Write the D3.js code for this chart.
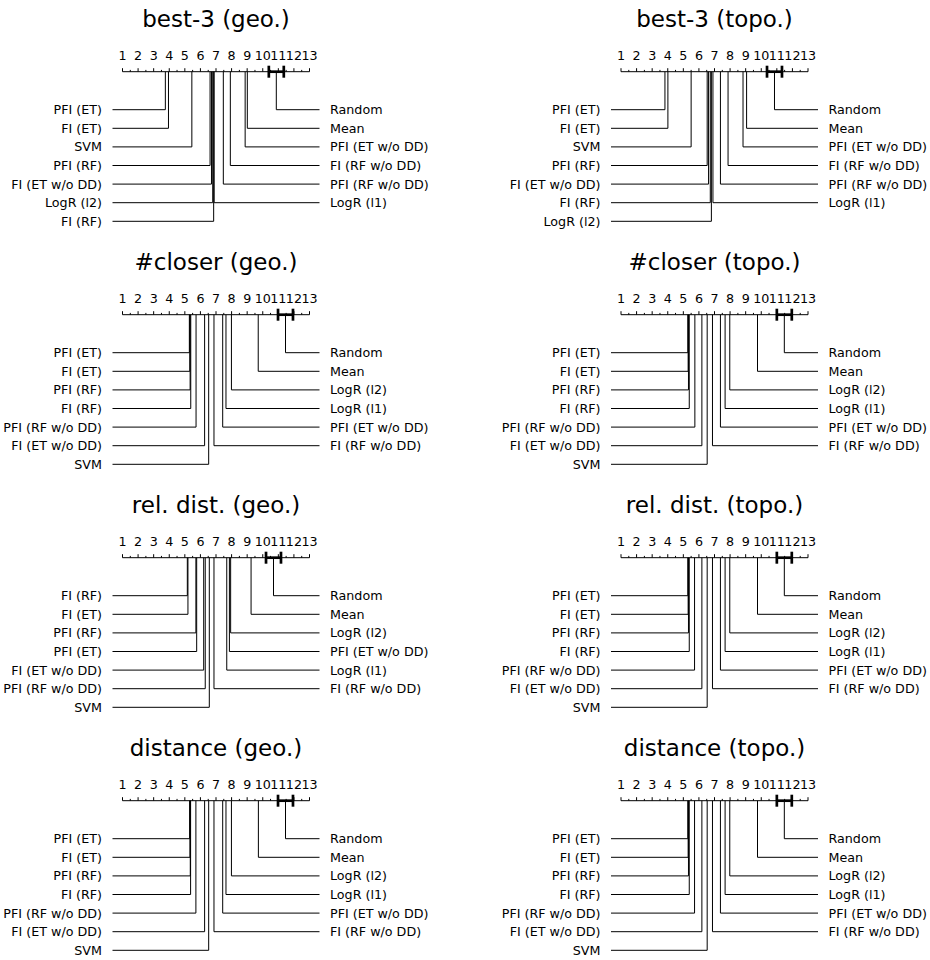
<!DOCTYPE html>
<html>
<head>
<meta charset="utf-8">
<script src="https://cdn.jsdelivr.net/npm/d3@7"></script>
<style>
  html, body { margin: 0; padding: 0; background: #fff; }
  svg { display: block; font-family: "DejaVu Sans", sans-serif; }
</style>
</head>
<body>
<svg id="chart" width="930" height="960"></svg>
<script>
// Methods compared in every panel (rank arrays below follow this order)
const methods = [
  "PFI (ET)", "FI (ET)", "PFI (RF)", "FI (RF)",
  "PFI (ET w/o DD)", "FI (ET w/o DD)", "PFI (RF w/o DD)", "FI (RF w/o DD)",
  "SVM", "LogR (l1)", "LogR (l2)", "Mean", "Random"
];

const panelTitles = [
  "best-3 (geo.)", "best-3 (topo.)",
  "#closer (geo.)", "#closer (topo.)",
  "rel. dist. (geo.)", "rel. dist. (topo.)",
  "distance (geo.)", "distance (topo.)"
];

// Average ranks per panel
const ranksBest3Geo     = [3.75, 3.95, 6.62, 6.85, 8.87, 6.71, 7.47, 7.92, 5.45, 6.88, 6.79, 9.01, 10.87];
const ranksBest3Topo    = [3.82, 4.01, 6.53, 6.73, 8.83, 6.62, 7.38, 7.87, 5.50, 6.90, 6.80, 9.06, 10.85];
const ranksCloserGeo    = [5.29, 5.32, 5.34, 5.38, 7.43, 6.27, 5.72, 6.87, 6.53, 7.64, 7.99, 9.71, 11.46];
const ranksCloserTopo   = [5.29, 5.31, 5.33, 5.38, 7.38, 6.19, 5.74, 6.87, 6.53, 7.68, 7.98, 9.76, 11.48];
const ranksRelDistGeo   = [5.76, 5.20, 5.71, 5.16, 7.86, 6.21, 6.31, 6.87, 6.57, 7.69, 7.94, 9.25, 10.69];
const ranksRelDistTopo  = [5.29, 5.31, 5.33, 5.38, 7.38, 6.19, 5.72, 6.87, 6.53, 7.68, 7.98, 9.76, 11.48];
const ranksDistanceGeo  = [5.31, 5.33, 5.35, 5.37, 7.43, 6.27, 5.71, 6.87, 6.53, 7.64, 7.99, 9.72, 11.46];
const ranksDistanceTopo = [5.29, 5.31, 5.33, 5.38, 7.38, 6.19, 5.72, 6.87, 6.53, 7.68, 7.98, 9.76, 11.48];

const panelRanks = [
  ranksBest3Geo, ranksBest3Topo,
  ranksCloserGeo, ranksCloserTopo,
  ranksRelDistGeo, ranksRelDistTopo,
  ranksDistanceGeo, ranksDistanceTopo
];

// Critical difference interval, centred on the worst-ranked method
const criticalDifference = 0.96;

const tickLabels = ["1","2","3","4","5","6","7","8","9","10","11","12","13"];

// ---- layout ----
const svg = d3.select("#chart");
const colX = [[122.5, 309.5], [621, 808]];
const rowAxisY = [71.7, 314.7, 557.7, 800.7];
const firstLineOffset = 38;
const lineStep = 18.6;
const lineOverhang = 10;
const textGap = 10.5;
const nLeft = Math.ceil(methods.length / 2);

panelRanks.forEach((ranks, p) => {
  const [x0, x1] = colX[p % 2];
  const axisY = rowAxisY[Math.floor(p / 2)];
  const x = d3.scaleLinear().domain([1, tickLabels.length]).range([x0, x1]);
  const g = svg.append("g");

  // title
  g.append("text")
    .attr("x", (x0 + x1) / 2)
    .attr("y", axisY - 44.5)
    .attr("text-anchor", "middle")
    .attr("font-size", 23)
    .text(panelTitles[p]);

  // axis line and ticks
  g.append("line")
    .attr("x1", x(1)).attr("x2", x(tickLabels.length))
    .attr("y1", axisY).attr("y2", axisY)
    .attr("stroke", "#000").attr("stroke-width", 1);

  const ticks = d3.range(1, tickLabels.length + 0.01, 0.5);
  g.selectAll(".tick").data(ticks).join("line")
    .attr("x1", d => x(d)).attr("x2", d => x(d))
    .attr("y1", axisY)
    .attr("y2", d => axisY - (Number.isInteger(d) ? 3.5 : 1.8))
    .attr("stroke", "#000").attr("stroke-width", 1);

  g.selectAll(".ticklabel").data(tickLabels).join("text")
    .attr("x", (d, i) => x(i + 1))
    .attr("y", axisY - 11.7)
    .attr("text-anchor", "middle")
    .attr("font-size", 12.7)
    .text(d => d);

  // method lines and labels
  const order = d3.range(methods.length).sort((a, b) => ranks[a] - ranks[b]);
  const left = order.slice(0, nLeft);
  const right = order.slice(nLeft).reverse();

  const drawSide = (list, side) => {
    list.forEach((m, i) => {
      const rx = x(ranks[m]);
      const ly = axisY + firstLineOffset + i * lineStep;
      const endX = side === "left" ? x0 - lineOverhang : x1 + lineOverhang;
      g.append("path")
        .attr("d", d3.line()([[rx, axisY], [rx, ly], [endX, ly]]))
        .attr("fill", "none")
        .attr("stroke", "#000")
        .attr("stroke-width", 1);
      g.append("text")
        .attr("x", side === "left" ? endX - textGap : endX + textGap)
        .attr("y", ly)
        .attr("dy", "0.36em")
        .attr("text-anchor", side === "left" ? "end" : "start")
        .attr("font-size", 12.7)
        .text(methods[m]);
    });
  };
  drawSide(left, "left");
  drawSide(right, "right");

  // critical difference bar
  const worst = d3.max(ranks);
  const lo = worst - criticalDifference / 2;
  const hi = worst + criticalDifference / 2;
  g.append("line")
    .attr("x1", x(lo)).attr("x2", x(hi))
    .attr("y1", axisY).attr("y2", axisY)
    .attr("stroke", "#000").attr("stroke-width", 2.7);
  [lo, hi].forEach(v => {
    g.append("line")
      .attr("x1", x(v)).attr("x2", x(v))
      .attr("y1", axisY - 6).attr("y2", axisY + 6)
      .attr("stroke", "#000").attr("stroke-width", 2.7);
  });
});
</script>
</body>
</html>
